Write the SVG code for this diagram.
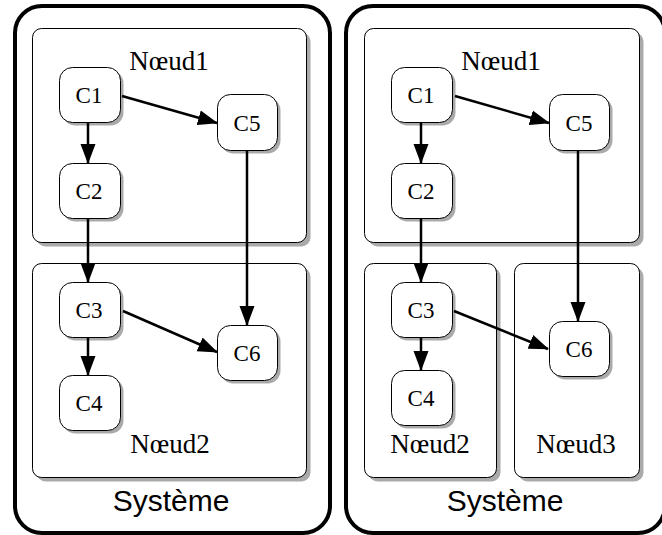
<svg xmlns="http://www.w3.org/2000/svg" width="662" height="535" viewBox="0 0 662 535">
<style>
.sys{fill:#fff;stroke:#000;stroke-width:4}
.nd{fill:#fff;stroke:#000;stroke-width:1}
.ndsh{fill:#aaa;stroke:none}
.cb{fill:#fff;stroke:#000;stroke-width:1}
.csh{fill:#aaa;stroke:none}
.lbl{font-family:"Liberation Serif","Times New Roman",serif;font-size:23px;text-anchor:middle;fill:#000}
.nl{font-family:"Liberation Serif","Times New Roman",serif;font-size:27px;text-anchor:middle;fill:#000}
.sl{font-family:"Liberation Sans",Arial,sans-serif;font-size:30px;text-anchor:middle;fill:#000}
.e{stroke:#000;stroke-width:2.5;fill:none;marker-end:url(#ah)}
</style>
<defs>
<marker id="ah" markerUnits="userSpaceOnUse" markerWidth="20" markerHeight="16" refX="19" refY="8" orient="auto">
<path d="M0,0.5 L20,8 L0,15.5 z" fill="#000"/>
</marker>
</defs>
<rect width="662" height="535" fill="#fff"/>

<g id="systeme-gauche">
<rect class="sys" x="15" y="6" width="315" height="527" rx="27"/>
<text class="sl" x="171" y="511">Système</text>
</g>
<g id="systeme-droite">
<rect class="sys" x="346" y="6" width="319" height="527" rx="27"/>
<text class="sl" x="505" y="511">Système</text>
</g>

<g id="g-noeud1">
<rect class="ndsh" x="36.5" y="32.5" width="274" height="214" rx="9"/>
<rect class="nd" x="32.5" y="28.5" width="274" height="214" rx="9"/>
<text class="nl" x="169" y="70">Nœud1</text>
</g>
<g id="g-noeud2">
<rect class="ndsh" x="36.5" y="267.5" width="274" height="214" rx="9"/>
<rect class="nd" x="32.5" y="263.5" width="274" height="214" rx="9"/>
<text class="nl" x="170" y="453">Nœud2</text>
</g>
<g id="d-noeud1">
<rect class="ndsh" x="368.5" y="32.5" width="275" height="214" rx="9"/>
<rect class="nd" x="364.5" y="28.5" width="275" height="214" rx="9"/>
<text class="nl" x="501" y="70">Nœud1</text>
</g>
<g id="d-noeud2">
<rect class="ndsh" x="368.5" y="267.5" width="132" height="214" rx="9"/>
<rect class="nd" x="364.5" y="263.5" width="132" height="214" rx="9"/>
<text class="nl" x="430" y="453">Nœud2</text>
</g>
<g id="d-noeud3">
<rect class="ndsh" x="518.5" y="267.5" width="125" height="214" rx="9"/>
<rect class="nd" x="514.5" y="263.5" width="125" height="214" rx="9"/>
<text class="nl" x="576" y="453">Nœud3</text>
</g>

<g id="g-c1"><rect class="csh" x="62.5" y="70.5" width="61" height="55" rx="13"/><rect class="cb" x="59.5" y="67.5" width="61" height="55" rx="13"/><text class="lbl" x="89" y="103">C1</text></g>
<g id="g-c2"><rect class="csh" x="62.5" y="166.5" width="61" height="55" rx="13"/><rect class="cb" x="59.5" y="163.5" width="61" height="55" rx="13"/><text class="lbl" x="89" y="199">C2</text></g>
<g id="g-c3"><rect class="csh" x="62.5" y="285.5" width="61" height="55" rx="13"/><rect class="cb" x="59.5" y="282.5" width="61" height="55" rx="13"/><text class="lbl" x="89" y="318">C3</text></g>
<g id="g-c4"><rect class="csh" x="62.5" y="378.5" width="61" height="55" rx="13"/><rect class="cb" x="59.5" y="375.5" width="61" height="55" rx="13"/><text class="lbl" x="89" y="411">C4</text></g>
<g id="g-c5"><rect class="csh" x="220.5" y="97.5" width="60" height="56" rx="13"/><rect class="cb" x="217.5" y="94.5" width="60" height="56" rx="13"/><text class="lbl" x="247" y="130.5">C5</text></g>
<g id="g-c6"><rect class="csh" x="220.5" y="328.5" width="60" height="55" rx="13"/><rect class="cb" x="217.5" y="325.5" width="60" height="55" rx="13"/><text class="lbl" x="247" y="361">C6</text></g>

<g id="d-c1"><rect class="csh" x="394.5" y="70.5" width="61" height="55" rx="13"/><rect class="cb" x="391.5" y="67.5" width="61" height="55" rx="13"/><text class="lbl" x="421" y="103">C1</text></g>
<g id="d-c2"><rect class="csh" x="394.5" y="166.5" width="61" height="55" rx="13"/><rect class="cb" x="391.5" y="163.5" width="61" height="55" rx="13"/><text class="lbl" x="421" y="199">C2</text></g>
<g id="d-c3"><rect class="csh" x="394.5" y="285.5" width="61" height="55" rx="13"/><rect class="cb" x="391.5" y="282.5" width="61" height="55" rx="13"/><text class="lbl" x="421" y="318">C3</text></g>
<g id="d-c4"><rect class="csh" x="394.5" y="373.5" width="61" height="55" rx="13"/><rect class="cb" x="391.5" y="370.5" width="61" height="55" rx="13"/><text class="lbl" x="421" y="406">C4</text></g>
<g id="d-c5"><rect class="csh" x="552.5" y="97.5" width="60" height="56" rx="13"/><rect class="cb" x="549.5" y="94.5" width="60" height="56" rx="13"/><text class="lbl" x="579" y="130.5">C5</text></g>
<g id="d-c6"><rect class="csh" x="552.5" y="324.5" width="60" height="55" rx="13"/><rect class="cb" x="549.5" y="321.5" width="60" height="55" rx="13"/><text class="lbl" x="579" y="357">C6</text></g>

<g id="connecteurs">
<line class="e" x1="88" y1="122" x2="88" y2="163"/>
<line class="e" x1="122" y1="96" x2="217" y2="123"/>
<line class="e" x1="88" y1="218" x2="88" y2="282"/>
<line class="e" x1="247" y1="150" x2="247" y2="325"/>
<line class="e" x1="123" y1="311" x2="217" y2="352"/>
<line class="e" x1="88" y1="337" x2="88" y2="375"/>
<line class="e" x1="421" y1="122" x2="421" y2="163"/>
<line class="e" x1="455" y1="96" x2="549" y2="123"/>
<line class="e" x1="421" y1="218" x2="421" y2="282"/>
<line class="e" x1="578" y1="150" x2="578" y2="321"/>
<line class="e" x1="454" y1="311" x2="548" y2="349"/>
<line class="e" x1="421" y1="337" x2="421" y2="370"/>
</g>
</svg>
